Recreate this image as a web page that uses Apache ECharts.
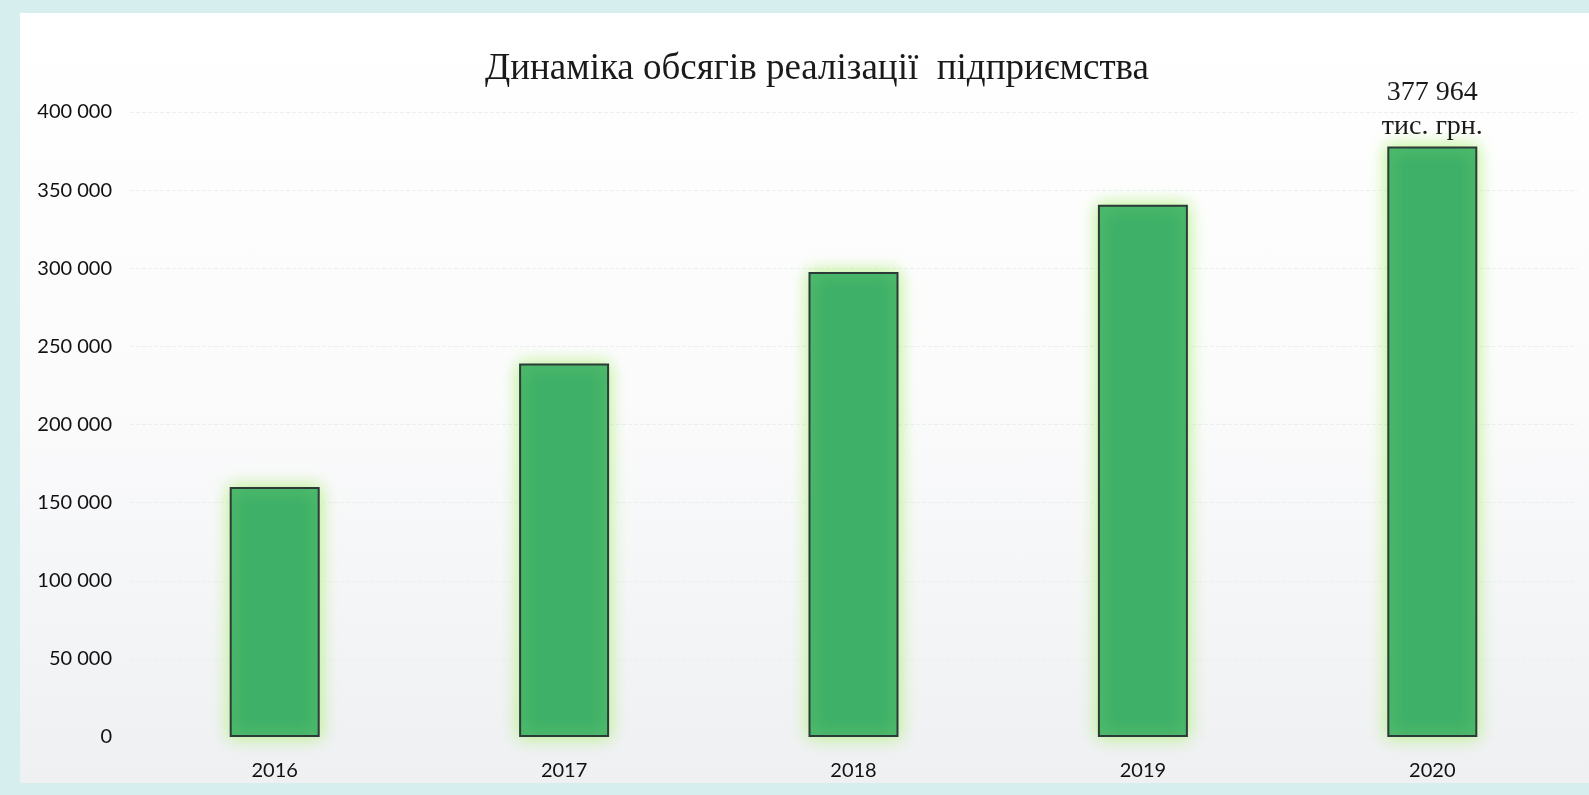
<!DOCTYPE html>
<html>
<head>
<meta charset="utf-8">
<script src="https://cdn.jsdelivr.net/npm/echarts@6/dist/echarts.min.js"></script>
<style>
  html, body { margin: 0; padding: 0; width: 1589px; height: 795px; overflow: hidden; background: #d6efee; }
  #chart { position: absolute; left: 20px; top: 13px; width: 1569px; height: 770px;
           background: linear-gradient(to bottom, #ffffff 0%, #fbfbfc 50%, #eef0f2 100%); }
</style>
</head>
<body>
<div id="chart"></div>
<script>
const titleText = 'Динаміка обсягів реалізації  підприємства';
const years = ['2016', '2017', '2018', '2019', '2020'];
const sales = [160000, 239000, 297600, 340700, 377964];
const unitLabel = 'тис. грн.';
const labelledIndex = 4;

function fmt(v) {
  return String(Math.round(v)).replace(/\B(?=(\d{3})+(?!\d))/g, ' ');
}

const chart = echarts.init(document.getElementById('chart'), null, { renderer: 'canvas' });

const seriesData = sales.map((v, i) => {
  const item = { value: v };
  if (i === labelledIndex) {
    item.label = {
      show: true,
      position: 'top',
      distance: 3,
      formatter: (p) => fmt(p.value) + '\n' + unitLabel,
      fontFamily: '"Liberation Serif", "DejaVu Serif", serif',
      fontSize: 28,
      lineHeight: 34,
      color: '#1a1a1a'
    };
  }
  return item;
});

chart.setOption({
  animation: false,
  title: {
    text: titleText,
    left: 792,
    textAlign: 'center',
    top: 33,
    textStyle: {
      fontFamily: '"Liberation Serif", "DejaVu Serif", serif',
      fontSize: 37,
      fontWeight: 'normal',
      color: '#1a1a1a'
    }
  },
  grid: { left: 110, right: 12, top: 99, bottom: 46, containLabel: false },
  xAxis: {
    type: 'category',
    data: years,
    axisLine: { show: false },
    axisTick: { show: false },
    axisLabel: {
      margin: 24,
      fontFamily: 'Lato, "Open Sans", sans-serif',
      fontSize: 20,
      color: '#111'
    }
  },
  yAxis: {
    type: 'value',
    min: 0,
    max: 400000,
    interval: 50000,
    axisLine: { show: false },
    axisTick: { show: false },
    axisLabel: {
      margin: 18,
      formatter: (v) => fmt(v),
      fontFamily: 'Lato, "Open Sans", sans-serif',
      fontSize: 20,
      color: '#111'
    },
    splitLine: { show: true, lineStyle: { color: '#eceff0', type: 'dashed', width: 1 } }
  },
  series: [{
    type: 'bar',
    data: seriesData,
    barWidth: 90,
    itemStyle: {
      color: '#3eb068',
      borderColor: '#2c3b3a',
      borderWidth: 2,
      shadowColor: 'rgba(175, 240, 120, 0.95)',
      shadowBlur: 16
    }
  }]
});
</script>
</body>
</html>
